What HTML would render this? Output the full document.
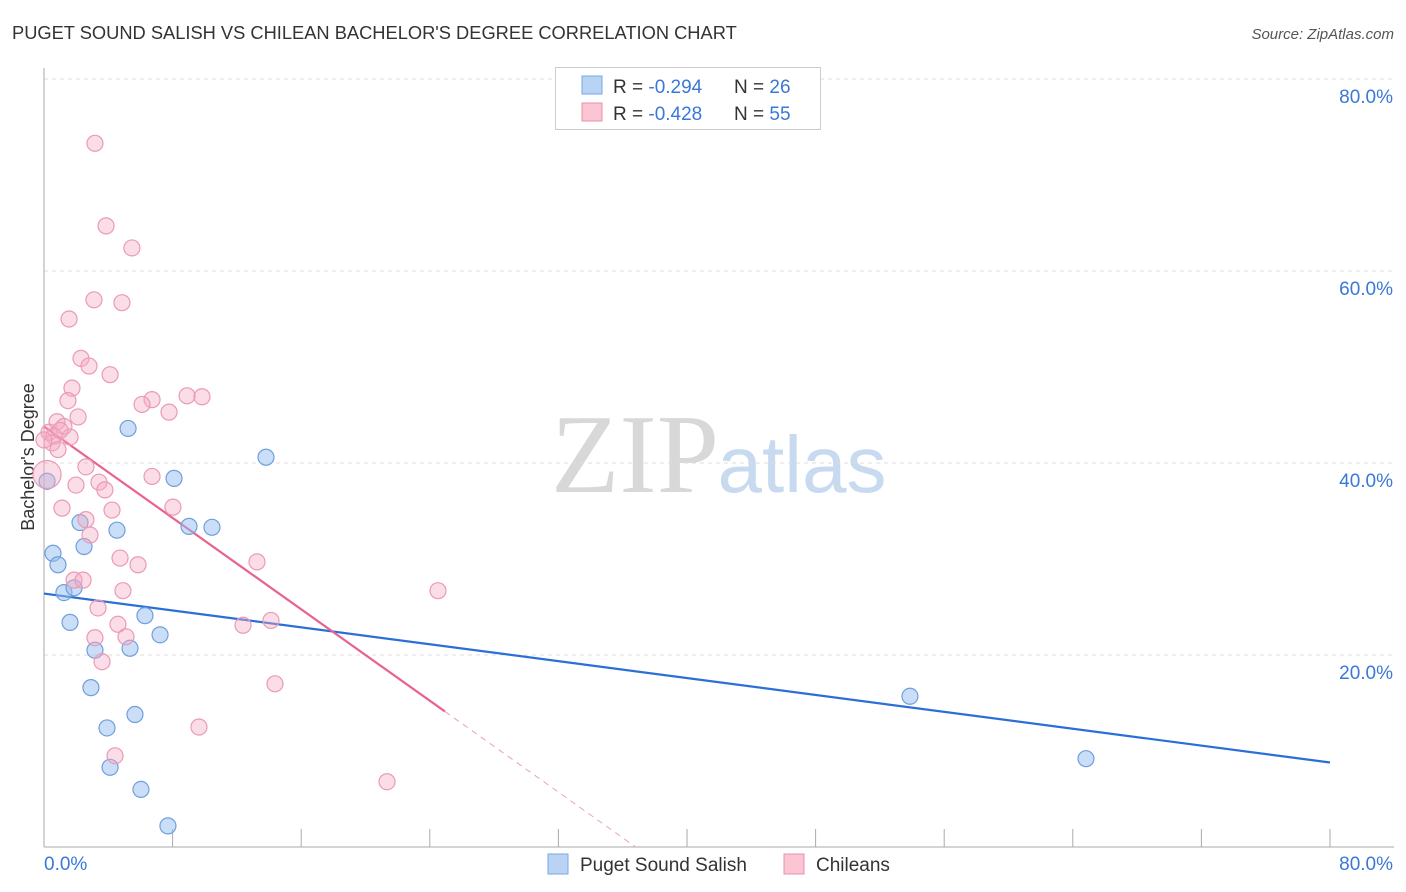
<!DOCTYPE html>
<html><head><meta charset="utf-8"><style>
body{margin:0;background:#fff;font-family:"Liberation Sans",sans-serif;}
svg{display:block}
</style></head><body>
<svg id="chart" width="1406" height="892" xmlns="http://www.w3.org/2000/svg">
<text x="12" y="39" font-size="18.3" fill="#333">PUGET SOUND SALISH VS CHILEAN BACHELOR'S DEGREE CORRELATION CHART</text>
<text x="1394" y="39" font-size="15" fill="#555" font-style="italic" text-anchor="end">Source: ZipAtlas.com</text>
<g>
<text x="635" y="492" font-size="112" font-family="Liberation Serif,serif" fill="#d8d8d8" text-anchor="middle">ZIP</text>
<text x="802" y="492" font-size="80" fill="#c8daf0" text-anchor="middle">atlas</text>
</g>
<g id="grid"></g>
<g id="axes"></g>
<text transform="translate(34,457) rotate(-90)" font-size="18" fill="#333" text-anchor="middle">Bachelor's Degree</text>
<g id="lines"></g>
<g id="points"></g>
<g>
<rect x="555.5" y="67.5" width="265" height="62" fill="#fff" stroke="#ccc"/>
<rect x="582" y="76" width="20" height="18" fill="#b9d3f5" stroke="#7aa7e0"/>
<rect x="582" y="103" width="20" height="18" fill="#fbc5d4" stroke="#e890aa"/>
<text x="613" y="93" font-size="19" fill="#333">R = <tspan fill="#3a78d8">-0.294</tspan></text>
<text x="734" y="93" font-size="19" fill="#333">N = <tspan fill="#3a78d8">26</tspan></text>
<text x="613" y="120" font-size="19" fill="#333">R = <tspan fill="#3a78d8">-0.428</tspan></text>
<text x="734" y="120" font-size="19" fill="#333">N = <tspan fill="#3a78d8">55</tspan></text>
</g>
<g>
<rect x="548" y="854" width="20" height="20" fill="#b9d3f5" stroke="#7aa7e0"/>
<text x="580" y="871" font-size="19" fill="#333">Puget Sound Salish</text>
<rect x="784" y="854" width="20" height="20" fill="#fbc5d4" stroke="#e890aa"/>
<text x="816" y="871" font-size="19" fill="#333">Chileans</text>
</g>
</svg>
<script>
const blueX=[0.19,0.56,0.87,1.24,1.62,1.87,2.24,2.49,2.92,3.17,3.92,4.11,4.54,5.23,5.35,5.66,6.03,6.28,7.22,7.71,8.09,9.02,10.45,13.81,53.87,64.82];
const blueY=[38.1,30.6,29.4,26.5,23.4,27.0,33.8,31.3,16.6,20.5,12.4,8.3,33.0,43.6,20.7,13.8,6.0,24.1,22.1,2.2,38.4,33.4,33.3,40.6,15.7,9.2];
const pinkX=[3.17,3.86,5.47,3.11,4.85,1.56,2.30,2.80,4.11,1.74,1.49,6.72,6.10,8.90,9.83,7.78,2.12,0.81,1.24,0.31,0.62,1.62,0.50,0.87,0.19,2.61,6.72,1.99,3.42,3.79,1.12,4.23,8.02,2.61,2.86,4.73,5.85,13.25,1.87,2.43,4.91,24.51,3.36,4.60,12.38,14.12,3.17,5.10,3.61,14.37,9.64,4.42,21.34,0,1.0];
const pinkY=[73.3,64.7,62.4,57.0,56.7,55.0,50.9,50.1,49.2,47.8,46.5,46.6,46.1,47.0,46.9,45.3,44.8,44.3,43.8,43.2,42.8,42.7,42.1,41.4,38.8,39.6,38.6,37.7,38.0,37.2,35.3,35.1,35.4,34.1,32.5,30.1,29.4,29.7,27.8,27.8,26.7,26.7,24.9,23.2,23.1,23.6,21.8,21.9,19.3,17.0,12.5,9.5,6.8,42.4,43.4];
const yTicks=[20,40,60,80];
const yTickLabels=["20.0%","40.0%","60.0%","80.0%"];
const xTicks=[0,8,16,24,32,40,48,56,64,72,80];
const blueTrend=[26.4,8.8];
const pinkTrend=[43.8,-1.19];
const NS="http://www.w3.org/2000/svg";
const sx=v=>44+v*16.075;
const sy=v=>847-v*9.6;
function mk(tag,attrs,parent){const e=document.createElementNS(NS,tag);for(const k in attrs)e.setAttribute(k,attrs[k]);parent.appendChild(e);return e;}
const grid=document.getElementById('grid'),axes=document.getElementById('axes');
yTicks.forEach((t,i)=>{
 const l=mk('line',{x1:44,x2:1394,y1:sy(t),y2:sy(t),stroke:'#ddd','stroke-dasharray':'4,4'},grid);
 
 
 const tx=mk('text',{x:1393,y:sy(t)+24,'font-size':19,fill:'#3a78d8','text-anchor':'end'},axes);
 tx.textContent=yTickLabels[i];
 
 
});
mk('line',{x1:44,x2:44,y1:68,y2:847,stroke:'#aaa'},axes);
mk('line',{x1:44,x2:1394,y1:847,y2:847,stroke:'#aaa'},axes);
xTicks.forEach(t=>{
 const l=mk('line',{x1:sx(t),x2:sx(t),y1:829,y2:847,stroke:'#aaa'},axes);
 
 
});
let a=mk('text',{x:44,y:870,'font-size':19,fill:'#3a78d8'},axes);a.textContent="0.0%";


a=mk('text',{x:1393,y:870,'font-size':19,fill:'#3a78d8','text-anchor':'end'},axes);a.textContent="80.0%";


const pts=document.getElementById('points');
blueX.forEach((x,i)=>{
 const c=mk('circle',{cx:sx(x),cy:sy(blueY[i]),r:8,fill:'rgba(150,190,240,0.5)',stroke:'#6f9fdc','stroke-width':1.2},pts);
 
 
});
pinkX.forEach((x,i)=>{
 const c=mk('circle',{cx:sx(x),cy:sy(pinkY[i]),r:(i==24?14:8),fill:'rgba(245,170,195,0.4)',stroke:'#eb9ab4','stroke-width':1.2},pts);
 
 
});
const ln=document.getElementById('lines');
let b=mk('line',{x1:sx(0),y1:sy(blueTrend[0]),x2:sx(80),y2:sy(blueTrend[1]),stroke:'#2b6fd6','stroke-width':2.2},ln);


const pf=x=>pinkTrend[0]+pinkTrend[1]*x;
const pEnd=24.94, pZero=-pinkTrend[0]/pinkTrend[1];
let p=mk('line',{x1:sx(0),y1:sy(pf(0)),x2:sx(pEnd),y2:sy(pf(pEnd)),stroke:'#e8638e','stroke-width':2.2},ln);


p=mk('line',{x1:sx(pEnd),y1:sy(pf(pEnd)),x2:sx(pZero),y2:sy(0),stroke:'#e8a0b8','stroke-width':1,'stroke-dasharray':'6,5'},ln);


</script>
</body></html>
